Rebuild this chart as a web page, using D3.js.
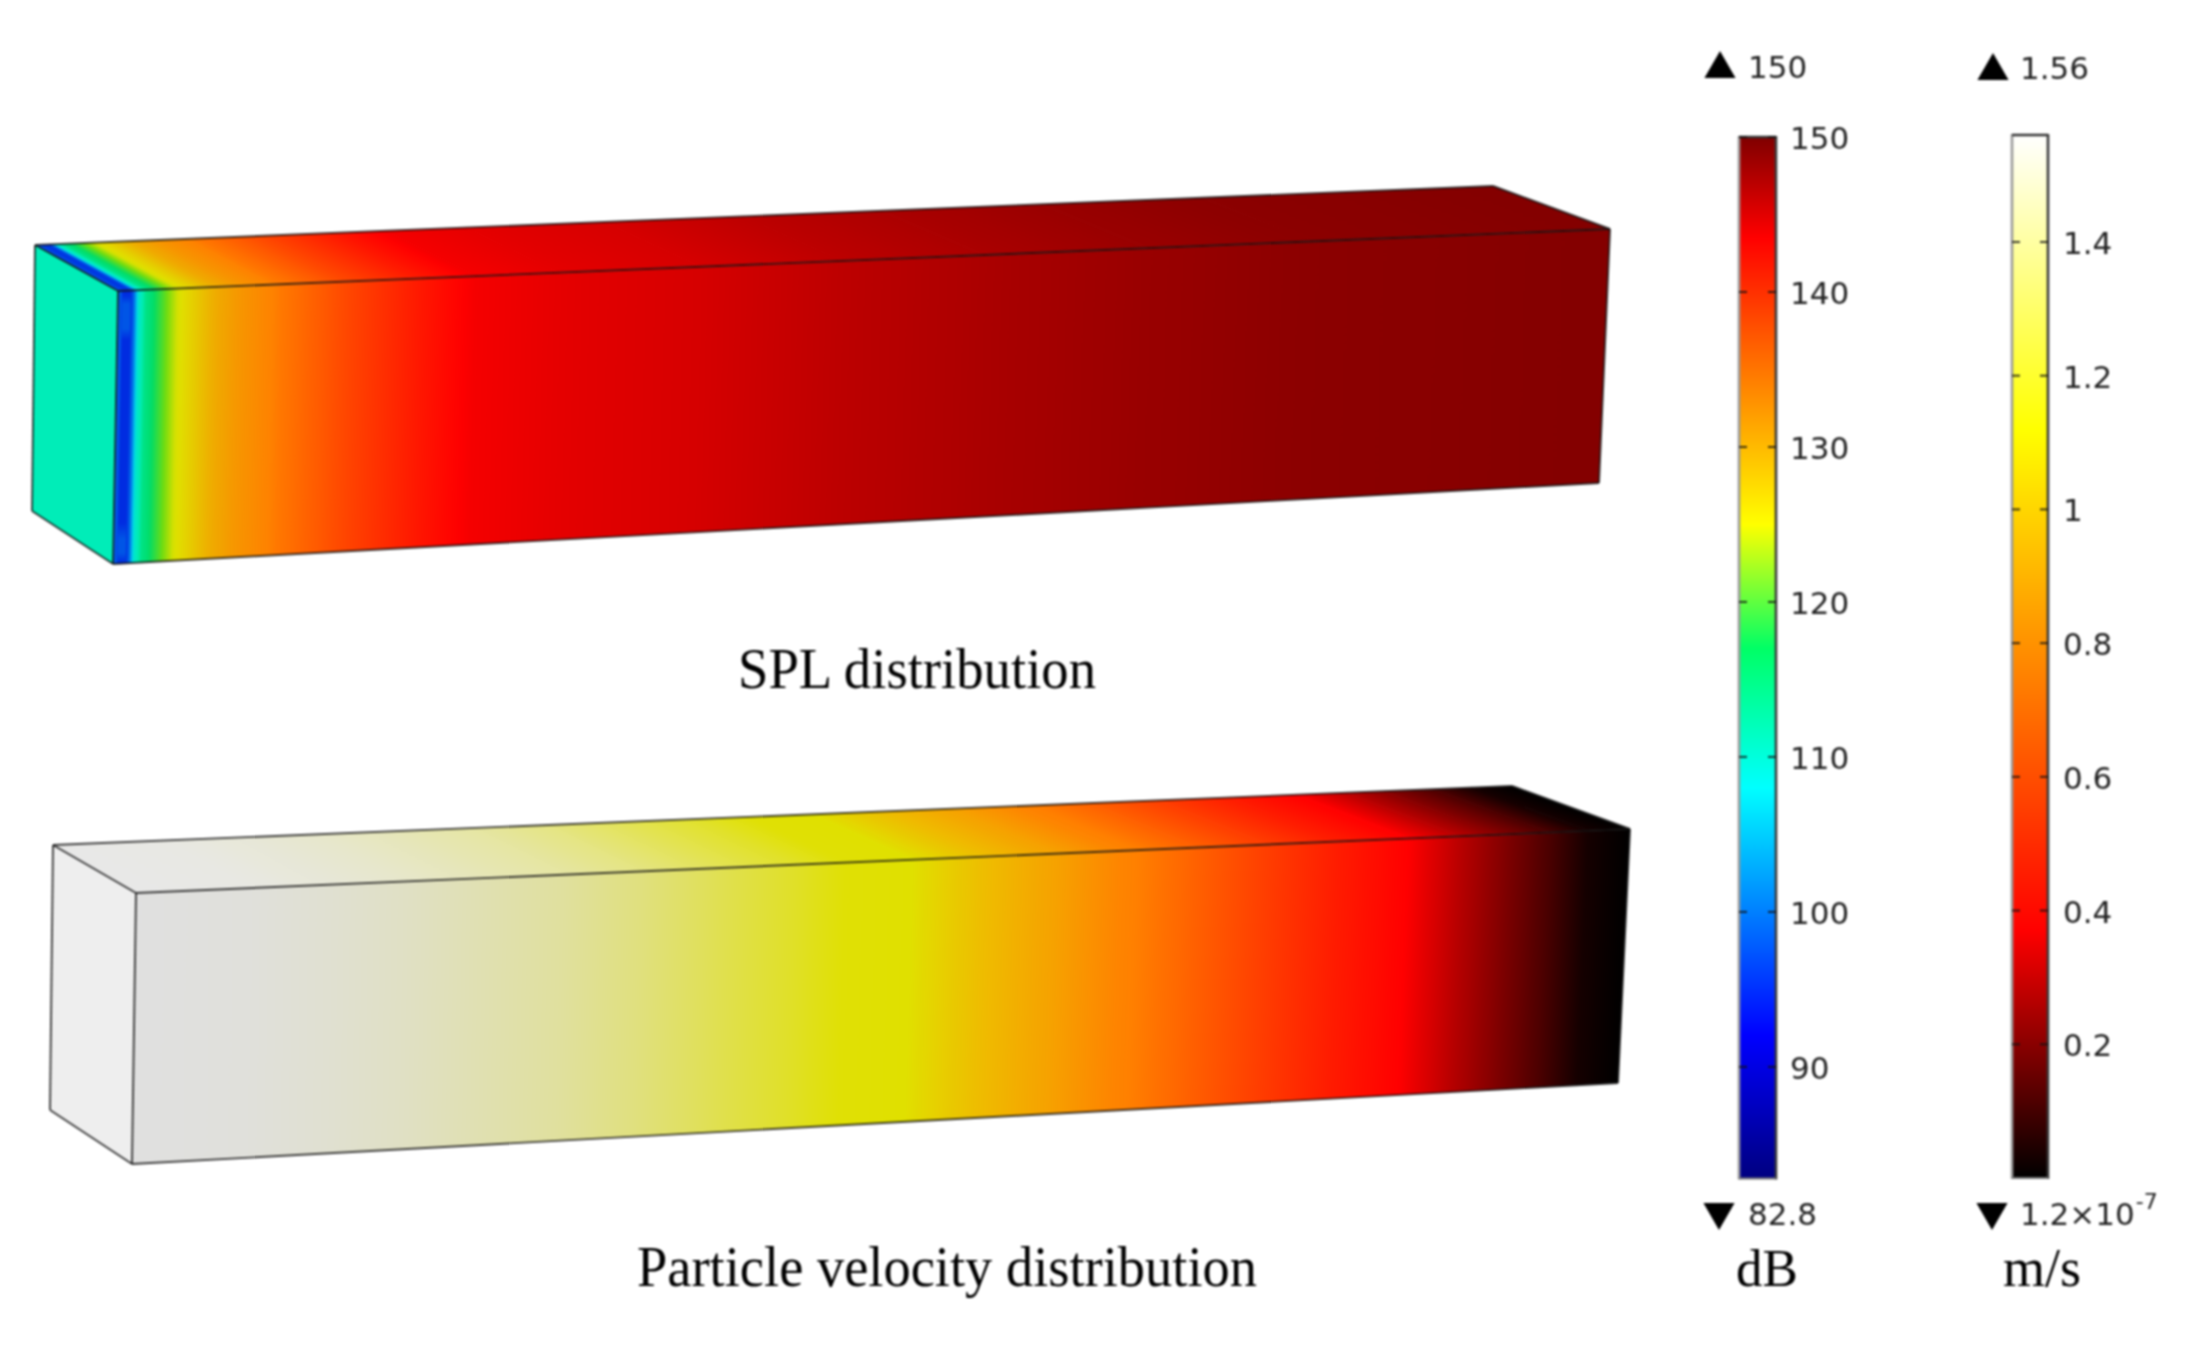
<!DOCTYPE html>
<html>
<head>
<meta charset="utf-8">
<script src="https://cdn.jsdelivr.net/npm/d3@7"></script>
<style>
html,body{margin:0;padding:0;background:#fff;overflow:hidden}
svg{display:block;filter:blur(0.8px)}
</style>
</head>
<body>
<svg id="chart" width="2208" height="1355"></svg>
<script>
// ---- DATA ----
const splTicks = [150,140,130,120,110,100,90];
const splTickLabels = ["150","140","130","120","110","100","90"];
const velTicks = [1.4,1.2,1,0.8,0.6,0.4,0.2];
const velTickLabels = ["1.4","1.2","1","0.8","0.6","0.4","0.2"];
const splRange = [82.8,150];
const velRange = [0.00000012,1.56];

// colour tables: legend
const splLegendValues = [82.8,92,108,117,125,143.5,150];
const splLegendColors = ["#000080","#0000ff","#00ffff","#00ff66","#ffff00","#ff0000","#800000"];
const velLegendValues = [0,0.37,1.12,1.56];
const velLegendColors = ["#000000","#ff0000","#ffff00","#ffffff"];
// colour tables: lit surface of the duct
const splSurfaceValues = [82.8,92,100,108,113,117,121,125,130,135,143.5,150];
const splSurfaceColors = ["#000080","#0028e0","#0064e8","#00d8e8","#00edb8","#00dc66","#70dc10","#e0e000","#f0a800","#ff8000","#ff0000","#800000"];
const velSurfaceValues = [0,0.37,0.7,0.95,1.12,1.56];
const velSurfaceColors = ["#000000","#ff0000","#ff8000","#f0b800","#e0e000","#e0e0e0"];

// field along the duct: position in % of its length, with value there
const splPosition = [0,0.2,0.5,0.9,1.0,1.2,1.4,1.9,2.3,3.1,4.0,5.0,6.2,8,11,15.7,20.4,24,29.5,39,48.5,58,69,80,100];
const splValues   = [102,97,94,94,98,104,111,115.5,116.5,120,124.5,126.5,129,132,135.5,139,142,144,144.8,145.6,146.9,147.8,148.7,149.4,149.8];
const velPosition = [0,7.6,13,19,28.6,33.7,38,44,47.5,52,53.2,56.5,61.6,66,71,75.7,80.6,85.2,88.6,91.2,94.6,97.2,100];
const velValues   = [1.56,1.55,1.53,1.5,1.43,1.37,1.3,1.2,1.13,1.12,1.08,0.98,0.85,0.72,0.62,0.53,0.44,0.37,0.27,0.2,0.11,0.03,0];
const splLeftValue = 113;
const velLeftValue = 1.56;
// the blue band at the inlet changes slightly with height (position in % of height)
const bandHeight = [0,2,5,14,18,85,91,96,100];
const bandValues = [92,93,98,98,92.5,92.5,98,98,92];

// ---- SETUP ----
const svg = d3.select("#chart");
svg.append("rect").attr("width",2208).attr("height",1355).attr("fill","#fff");
const defs = svg.append("defs");
let gid = 0;
const lerp = (a,b,t)=>[a[0]+(b[0]-a[0])*t,a[1]+(b[1]-a[1])*t];

const splLegendColor = d3.scaleLinear().domain(splLegendValues).range(splLegendColors).interpolate(d3.interpolateRgb).clamp(true);
const velLegendColor = d3.scaleLinear().domain(velLegendValues).range(velLegendColors).interpolate(d3.interpolateRgb).clamp(true);
const splSurface = d3.scaleLinear().domain(splSurfaceValues).range(splSurfaceColors).interpolate(d3.interpolateRgb).clamp(true);
const velSurface = d3.scaleLinear().domain(velSurfaceValues).range(velSurfaceColors).interpolate(d3.interpolateRgb).clamp(true);
const velTop = velSurface.copy().range(velSurfaceColors.slice(0,-1).concat("#e8e8e8"));
const velSide = velSurface.copy().range(velSurfaceColors.slice(0,-1).concat("#eeeeee"));

const line = d3.line();

// Paints a quad (a,b = one long edge; d,c = the other) as strips following the field
function paintField(g, a, b, c, d, pos, vals, color){
  const posScale = d3.scaleLinear().domain([0,100]).range([0,1]);
  const len = Math.hypot(b[0]-a[0],b[1]-a[1]);
  d3.pairs(d3.range(pos.length)).forEach(([i,j])=>{
    const t0 = posScale(pos[i]), t1 = posScale(pos[j]);
    const te = Math.min(1,t1+1.5/len);
    const p0 = lerp(a,b,t0), q0 = lerp(d,c,t0), p1 = lerp(a,b,t1), q1 = lerp(d,c,t1);
    const pe = lerp(a,b,te), qe = lerp(d,c,te);
    const ux = q0[0]-p0[0], uy = q0[1]-p0[1], ul = Math.hypot(ux,uy);
    const nx = -uy/ul, ny = ux/ul;
    const mL = lerp(p0,q0,.5), mR = lerp(p1,q1,.5);
    const dn = (mR[0]-mL[0])*nx+(mR[1]-mL[1])*ny;
    const id = "f"+(gid++);
    const grad = defs.append("linearGradient").attr("id",id).attr("gradientUnits","userSpaceOnUse")
      .attr("x1",mL[0]).attr("y1",mL[1]).attr("x2",mL[0]+nx*dn).attr("y2",mL[1]+ny*dn);
    const vi = d3.interpolateNumber(vals[i],vals[j]);
    d3.range(0,1.001,0.2).forEach(s=>{
      grad.append("stop").attr("offset",s).attr("stop-color",color(vi(s)));
    });
    g.append("path").attr("d",line([p0,pe,qe,q0])+"Z").attr("fill",`url(#${id})`);
  });
}

function box(geo, pos, vals, front, top, side, leftValue){
  const g = svg.append("g");
  // left face
  g.append("path").attr("d",line([geo.lt,geo.ft,geo.fb,geo.lb])+"Z").attr("fill",side(leftValue));
  // top face and front face
  paintField(g, geo.lt, geo.bt, geo.rt, geo.ft, pos, vals, top);
  paintField(g, geo.ft, geo.rt, geo.rb, geo.fb, pos, vals, front);
  return g;
}
function edges(g, geo){
  const segs = [[geo.lt,geo.bt],[geo.bt,geo.rt],[geo.rt,geo.rb],[geo.rb,geo.fb],[geo.fb,geo.lb],[geo.lb,geo.lt],[geo.lt,geo.ft],[geo.ft,geo.rt],[geo.ft,geo.fb]];
  g.selectAll("path.edge").data(segs).enter().append("path").attr("class","edge")
    .attr("d",d=>line(d)).attr("fill","none").attr("stroke","#111").attr("stroke-opacity",0.8).attr("stroke-width",1.9);
}

// ---- BOXES ----
const geo1 = {lt:[35,245],bt:[1493,186],rt:[1610,229],rb:[1599,483],fb:[113,564],lb:[32,511],ft:[118,291]};
const geo2 = {lt:[53,845],bt:[1512,786],rt:[1630,829],rb:[1618,1083],fb:[132,1164],lb:[50,1110],ft:[136,893]};

const g1 = box(geo1,splPosition,splValues,splSurface,splSurface,splSurface,splLeftValue);
// inlet band detail
(function(){
  const id="band";
  const grad=defs.append("linearGradient").attr("id",id).attr("x1",0).attr("y1",0).attr("x2",0).attr("y2",1);
  bandHeight.forEach((h,i)=>grad.append("stop").attr("offset",h/100).attr("stop-color",splSurface(bandValues[i])));
  const p=(t)=>lerp(geo1.ft,geo1.rt,t), q=(t)=>lerp(geo1.fb,geo1.rb,t);
  g1.append("path").attr("d",line([p(0.003),p(0.0085),q(0.0085),q(0.003)])+"Z").attr("fill",`url(#${id})`);
})();
edges(g1,geo1);

const g2 = box(geo2,velPosition,velValues,velSurface,velTop,velSide,velLeftValue);
edges(g2,geo2);

// ---- LEGENDS ----
const TICK_FONT = "'DejaVu Sans', sans-serif";
const TXT = "#222";
function legend(cfg){
  const y = d3.scaleLinear().domain(cfg.domain).range(cfg.range);
  const id = "lg"+(gid++);
  const grad = defs.append("linearGradient").attr("id",id).attr("x1",0).attr("y1",1).attr("x2",0).attr("y2",0);
  cfg.stopValues.forEach(v=>{
    grad.append("stop").attr("offset",(v-cfg.domain[0])/(cfg.domain[1]-cfg.domain[0])).attr("stop-color",cfg.color(v));
  });
  const g = svg.append("g");
  const x0=cfg.x0,x1=cfg.x1,top=y(cfg.domain[1]),bot=y(cfg.domain[0]);
  g.append("rect").attr("x",x0).attr("width",x1-x0).attr("y",top).attr("height",bot-top).attr("fill",`url(#${id})`);
  // frame: lit left, dark right, as in the figure
  g.append("line").attr("x1",x0).attr("x2",x0).attr("y1",top-1).attr("y2",bot+1).attr("stroke","#9a9a9a").attr("stroke-width",2.6);
  g.append("line").attr("x1",x1).attr("x2",x1).attr("y1",top-1).attr("y2",bot+1).attr("stroke","#3a3a3a").attr("stroke-width",2.6);
  g.append("line").attr("x1",x0).attr("x2",x1).attr("y1",top).attr("y2",top).attr("stroke","#333").attr("stroke-width",2.6);
  g.append("line").attr("x1",x0).attr("x2",x1).attr("y1",bot).attr("y2",bot).attr("stroke","#777").attr("stroke-width",2);
  // axis labels
  const ax = g.append("g").attr("transform",`translate(${cfg.labelX},0)`)
    .call(d3.axisRight(y).tickValues(cfg.ticks).tickSize(0).tickPadding(0).tickFormat((d,i)=>cfg.labels[i]));
  ax.select(".domain").remove();
  ax.selectAll("text").attr("dy","11.5px").attr("font-family",TICK_FONT).attr("font-size",31).attr("fill",TXT);
  // inner tick marks on both sides
  cfg.ticks.forEach(v=>{
    [[x0,x0+8],[x1-8,x1]].forEach(([a,b])=>{
      g.append("line").attr("x1",a).attr("x2",b).attr("y1",y(v)).attr("y2",y(v)).attr("stroke","#111").attr("stroke-opacity",.8).attr("stroke-width",2);
    });
  });
  // max / min markers
  const tri = d3.symbol().type(d3.symbolTriangle).size(420);
  g.append("path").attr("d",tri()).attr("transform",`translate(${cfg.triX},${cfg.upY})`).attr("fill","#000");
  g.append("path").attr("d",tri()).attr("transform",`translate(${cfg.triX-1},${cfg.downY}) rotate(180)`).attr("fill","#000");
  g.append("text").attr("x",cfg.textX).attr("y",cfg.maxBase).text(cfg.maxText).attr("font-family",TICK_FONT).attr("font-size",31).attr("fill",TXT);
  const tmin = g.append("text").attr("x",cfg.textX).attr("y",1225).attr("font-family",TICK_FONT).attr("font-size",31).attr("fill",TXT);
  tmin.append("tspan").text(cfg.minText);
  if(cfg.minSup){
    tmin.append("tspan").text(cfg.minSup).attr("font-size",22).attr("dy",-16).attr("dx",1);
  }
  // unit
  g.append("text").attr("x",cfg.unitX).attr("y",1286).text(cfg.unit)
    .attr("font-family","'Liberation Serif', serif").attr("font-size",cfg.unitSize).attr("fill","#000");
}
legend({domain:splRange,range:[1178.5,137],x0:1739,x1:1776,stopValues:splLegendValues,color:splLegendColor,
  ticks:splTicks,labels:splTickLabels,labelX:1790,triX:1720,upY:69,downY:1212,textX:1748,maxBase:78,
  maxText:"150",minText:"82.8",minSup:null,unit:"dB",unitX:1736,unitSize:53});
legend({domain:velRange,range:[1178,135],x0:2012,x1:2048,stopValues:[velRange[0],0.37,1.12,1.56],color:velLegendColor,
  ticks:velTicks,labels:velTickLabels,labelX:2063,triX:1993,upY:71,downY:1212,textX:2020,maxBase:79,
  maxText:"1.56",minText:"1.2\u00d710",minSup:"-7",unit:"m/s",unitX:2003,unitSize:54});

// ---- CAPTIONS ----
svg.append("text").attr("x",738).attr("y",688).text("SPL distribution")
  .attr("font-family","'Liberation Serif', serif").attr("font-size",58).attr("fill","#000")
  .attr("textLength",358).attr("lengthAdjust","spacingAndGlyphs");
svg.append("text").attr("x",637).attr("y",1286).text("Particle velocity distribution")
  .attr("font-family","'Liberation Serif', serif").attr("font-size",58).attr("fill","#000")
  .attr("textLength",620).attr("lengthAdjust","spacingAndGlyphs");
</script>
</body>
</html>
